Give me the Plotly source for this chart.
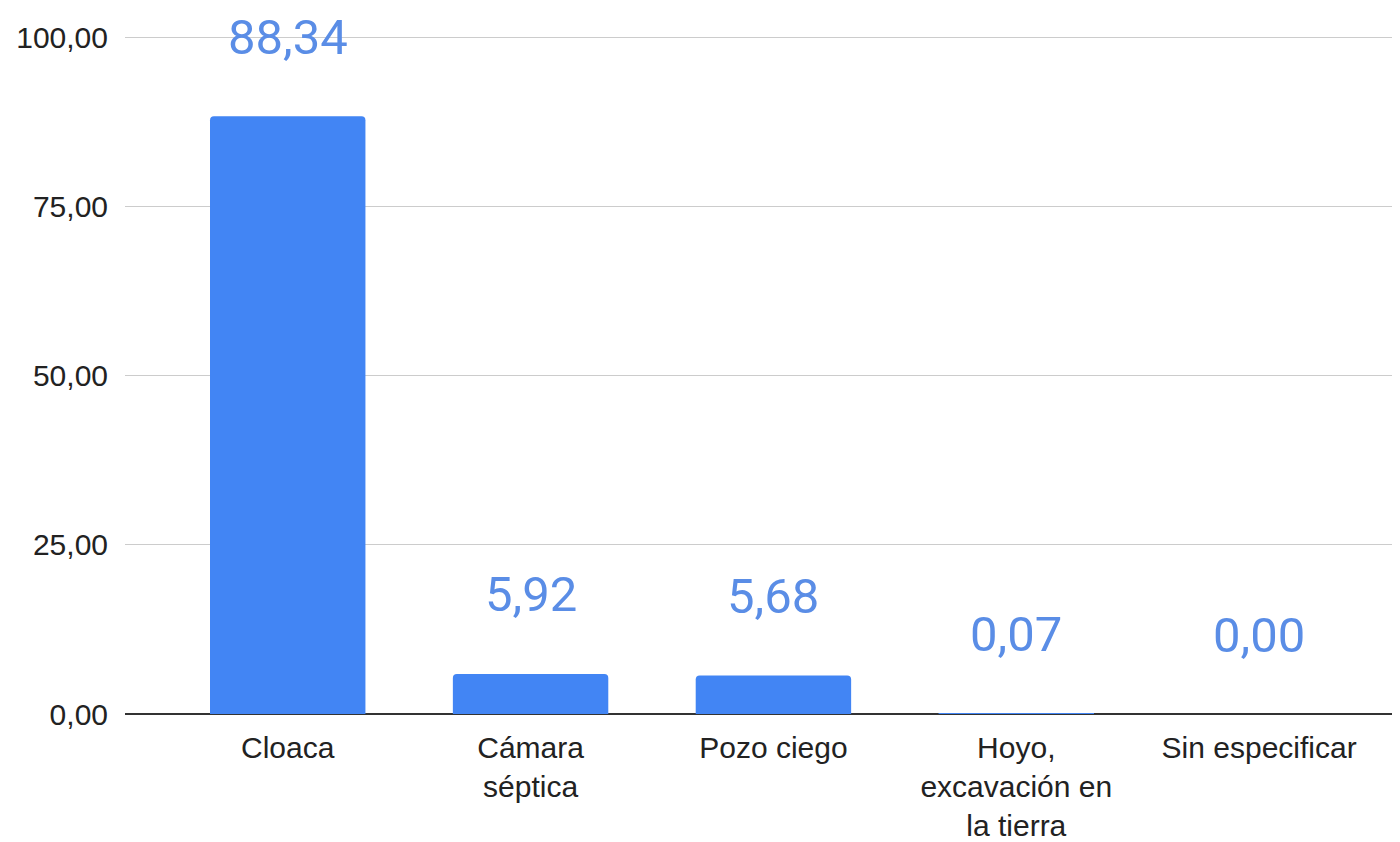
import plotly.graph_objects as go

categories = ["Cloaca", "Cámara<br>séptica", "Pozo ciego", "Hoyo,<br>excavación en<br>la tierra", "Sin especificar"]
values = [88.34, 5.92, 5.68, 0.07, 0.00]
y_ticks = [0, 25, 50, 75, 100]
y_ticklabels = ["0,00", "25,00", "50,00", "75,00", "100,00"]

BAR = "#4285F4"
LABEL = "#5A8DE6"

fig = go.Figure()
fig.add_trace(go.Bar(
    x=categories, y=values,
    marker=dict(color=BAR, cornerradius=4, line=dict(width=0)),
    showlegend=False, hoverinfo="x+y",
))

for c, v in zip(categories, values):
    fig.add_annotation(
        x=c, y=v, text=f"{v:.2f}".replace(".", ","),
        showarrow=False, yanchor="middle", yshift=79,
        font=dict(family="Roboto, Open Sans, sans-serif", size=49, color=LABEL),
    )

fig.update_layout(
    width=1392, height=834,
    margin=dict(l=117, r=0, t=28, b=128, autoexpand=False),
    paper_bgcolor="white", plot_bgcolor="white",
    bargap=0.36,
    separators=",.",
    font=dict(family="Liberation Sans, Arial, sans-serif", size=30, color="#222222"),
    xaxis=dict(
        type="category", range=[-0.67, 4.58], automargin=False,
        showgrid=False, showline=False, ticks="", ticklabelstandoff=13,
        tickfont=dict(size=30, color="#222222"),
    ),
    yaxis=dict(
        range=[0, 100.2], tickvals=y_ticks, ticktext=y_ticklabels, automargin=False,
        showgrid=True, gridcolor="#CCCCCC", gridwidth=1,
        zeroline=True, zerolinecolor="#333333", zerolinewidth=2,
        showline=False, ticks="", ticklabelstandoff=16,
        tickfont=dict(size=30, color="#222222"),
    ),
)

fig.write_html("out.html")
